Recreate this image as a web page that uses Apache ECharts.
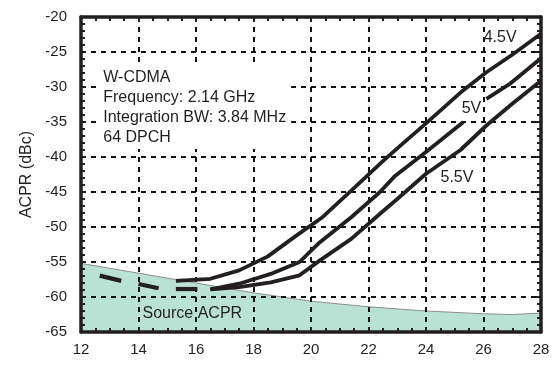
<!DOCTYPE html>
<html>
<head>
<meta charset="utf-8">
<script src="https://cdn.jsdelivr.net/npm/echarts@6/dist/echarts.min.js"></script>
<style>
html,body{margin:0;padding:0;background:#fff;}
#chart{width:557px;height:366px;}
</style>
</head>
<body>
<div id="chart"></div>
<script>
// ---- data ----
const xTicks = [12, 14, 16, 18, 20, 22, 24, 26, 28];
const yTicks = [-65, -60, -55, -50, -45, -40, -35, -30, -25, -20];

const sourceAcpr = [[12,-55.2],[14,-56.6],[16,-58.0],[18,-59.4],[19,-60.0],[20,-60.6],[22,-61.4],[24,-62.0],[25,-62.2],[26,-62.4],[27,-62.5],[28,-62.3]];
const lowPowerDash1 = [[12.65,-56.95],[13.4,-57.7]];
const lowPowerDash2 = [[14.0,-58.15],[14.7,-58.75]];
const lowPowerDash3 = [[15.3,-58.86],[16.05,-58.86]];
const curve45V = [[15.3,-57.7],[16.5,-57.4],[17.5,-56.2],[18.5,-54.2],[19.5,-51.2],[20.4,-48.6],[21.4,-44.8],[22.5,-40.6],[23.1,-38.4],[24.0,-35.2],[25.2,-30.8],[26.1,-27.9],[27.0,-25.4],[28.0,-22.4]];
const curve5VLow = [[16.5,-58.9],[17.5,-58.1],[18.6,-56.7],[19.6,-55.0],[20.3,-52.2],[21.4,-48.6],[22.4,-45.0],[22.9,-42.8],[24.0,-39.3],[25.3,-35.0]];
const curve5VHigh = [[26.1,-31.7],[26.9,-29.6],[28.0,-25.9]];
const curve55V = [[16.5,-58.9],[17.5,-58.6],[18.6,-57.9],[19.6,-56.9],[20.3,-54.8],[21.4,-51.7],[22.4,-48.1],[23.0,-46.0],[24.0,-42.4],[25.2,-39.0],[26.1,-35.5],[27.0,-32.4],[28.0,-29.1]];

const infoLines = ['W-CDMA', 'Frequency: 2.14 GHz', 'Integration BW: 3.84 MHz', '64 DPCH'];
const curveLabels = ['4.5V', '5V', '5.5V'];
const sourceLabel = 'Source ACPR';
const yAxisName = 'ACPR (dBc)';

// ---- styling ----
const INK = '#231f20';
const FONT = '"Liberation Sans", Arial, Helvetica, sans-serif';

const chart = echarts.init(document.getElementById('chart'));

function axisCommon(showLabel, showSplit) {
  const o = {
    axisLine: {show: true, onZero: false, lineStyle: {color: INK, width: 3.5}},
    axisTick: {show: true, inside: true, length: 5, lineStyle: {color: INK, width: 2}},
    minorTick: {show: true, length: 4, lineStyle: {color: INK, width: 2}},
    axisLabel: {show: showLabel, color: INK, fontSize: 15, fontFamily: FONT},
    splitLine: {show: showSplit, lineStyle: {color: '#111', width: 2, type: [5, 5]}}
  };
  o.zlevel = 1;
  return o;
}

const xMin = xTicks[0], xMax = xTicks[xTicks.length - 1];
const yMin = yTicks[0], yMax = yTicks[yTicks.length - 1];

function xa(pos, showLabel, showSplit) {
  const c = axisCommon(showLabel, showSplit);
  c.type = 'value'; c.position = pos; c.min = xMin; c.max = xMax; c.interval = 2;
  c.minorTick.splitNumber = 4;
  c.axisLabel.margin = 10;
  return c;
}
function ya(pos, showLabel, showSplit) {
  const c = axisCommon(showLabel, showSplit);
  c.type = 'value'; c.position = pos; c.min = yMin; c.max = yMax; c.interval = 5;
  c.minorTick.splitNumber = 5;
  c.axisLabel.margin = 14;
  return c;
}

const yLeft = ya('left', true, true);
yLeft.name = yAxisName;
yLeft.nameLocation = 'middle';
yLeft.nameGap = 46;
yLeft.nameRotate = 90;
yLeft.nameTextStyle = {color: INK, fontSize: 16};

function curve(name, data, width) {
  const s = {name: name, type: 'line', data: data, symbol: 'none',
    lineStyle: {color: INK, width: width, cap: 'butt', join: 'round'}};
  s.zlevel = 1;
  return s;
}

const area = {
  name: sourceLabel, type: 'line', data: sourceAcpr, symbol: 'none',
  lineStyle: {color: '#8c8c8c', width: 1},
  areaStyle: {color: '#b9e2d5', opacity: 1, origin: 'start'}
};
area.zlevel = 0;

chart.setOption({
  animation: false,
  grid: {left: 81, right: 16, top: 17, bottom: 34, show: false},
  xAxis: [xa('bottom', true, true), xa('top', false, false)],
  yAxis: [yLeft, ya('right', false, false)],
  series: [
    area,
    curve('low power 1', lowPowerDash1, 4.2),
    curve('low power 2', lowPowerDash2, 4.2),
    curve('low power 3', lowPowerDash3, 4.2),
    curve(curveLabels[0], curve45V, 3.8),
    curve(curveLabels[1], curve5VLow, 3.8),
    curve(curveLabels[1] + ' upper', curve5VHigh, 3.8),
    curve(curveLabels[2], curve55V, 3.8)
  ]
});

// text annotations anchored to data coordinates
function px(x, y) { return chart.convertToPixel({xAxisIndex: 0, yAxisIndex: 0}, [x, y]); }
function txt(x, y, text, align, vAlign, extra) {
  const p = px(x, y);
  return {
    type: 'text', x: p[0], y: p[1], zlevel: 1, z: 10, silent: true,
    style: Object.assign({text: text, fill: INK, fontSize: 16, fontFamily: FONT, align: align, verticalAlign: vAlign}, extra || {})
  };
}
chart.setOption({
  graphic: {elements: [
    txt(12.6, -27.15, infoLines.join('\n'), 'left', 'top', {lineHeight: 20, backgroundColor: '#ffffff', padding: [1, 5, 1, 5]}),
    txt(14.14, -62.43, sourceLabel, 'left', 'middle'),
    txt(27.15, -23.0, curveLabels[0], 'right', 'middle'),
    txt(25.92, -33.1, curveLabels[1], 'right', 'middle'),
    txt(25.65, -42.9, curveLabels[2], 'right', 'middle')
  ]}
});
</script>
</body>
</html>
